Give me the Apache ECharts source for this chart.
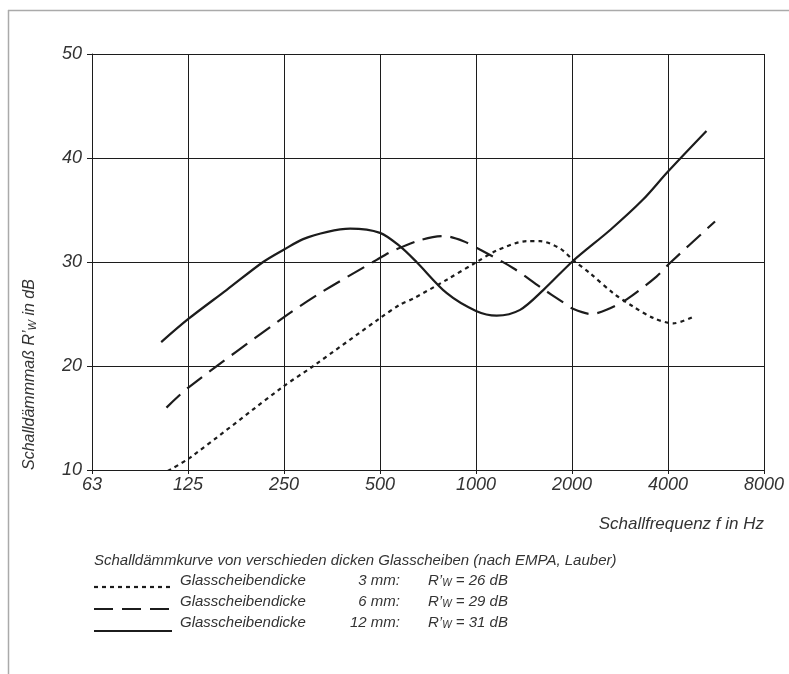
<!DOCTYPE html>
<html>
<head>
<meta charset="utf-8">
<script src="https://cdn.jsdelivr.net/npm/echarts@6/dist/echarts.min.js"></script>
<style>
  html, body { margin: 0; padding: 0; background: #fff; }
  #chart { width: 789px; height: 674px; }
</style>
</head>
<body>
<div id="chart"></div>
<script>
// octave band tick labels on the x axis (63 Hz ... 8000 Hz)
var freqLabels = ['63', '125', '250', '500', '1000', '2000', '4000', '8000'];
var baseFreq = 62.5;

// 3 mm glass (dotted)
var freq3mm = [108, 127, 248, 309, 500, 578, 637, 810, 1005, 1161, 1444, 1588, 1834, 2014, 2282, 2695, 3117, 3605, 4155, 4857];
var db3mm   = [9.9, 11.2, 18.0, 20.0, 24.6, 25.9, 26.5, 28.3, 30.0, 31.1, 32.0, 32.0, 31.3, 30.2, 28.9, 27.0, 25.7, 24.6, 24.1, 24.8];

// 6 mm glass (dashed)
var freq6mm = [107, 125, 250, 332, 488, 543, 668, 790, 914, 1028, 1310, 1588, 1879, 2014, 2297, 2567, 2969, 3681, 4056, 5617];
var db6mm   = [16.0, 17.9, 24.7, 27.2, 30.2, 31.0, 32.1, 32.5, 32.0, 31.2, 29.4, 27.6, 26.1, 25.5, 25.0, 25.4, 26.4, 28.6, 29.9, 33.9];

// 12 mm glass (solid)
var freq12mm = [103, 125, 165, 215, 250, 287, 342, 403, 500, 578, 651, 810, 1000, 1161, 1375, 1625, 2014, 2640, 3340, 4000, 5280];
var db12mm   = [22.3, 24.5, 27.3, 30.0, 31.2, 32.2, 32.9, 33.2, 32.8, 31.5, 30.0, 27.0, 25.3, 24.85, 25.4, 27.3, 30.1, 33.1, 36.0, 38.7, 42.6];

var FONT = '"Liberation Sans", Arial, sans-serif';
var INK = '#1c1c1c';

function toPoints(freqs, dbs) {
  return freqs.map(function (f, i) {
    return [Math.log2(f / baseFreq), dbs[i]];
  });
}

var chart = echarts.init(document.getElementById('chart'));

var option = {
  backgroundColor: '#fff',
  animation: false,
  grid: { left: 92, right: 25, top: 54, bottom: 204 },
  xAxis: {
    type: 'value',
    min: 0,
    max: 7,
    interval: 1,
    axisLine: { show: true, lineStyle: { color: INK, width: 1 } },
    axisTick: { show: true, length: 4, lineStyle: { color: INK } },
    axisLabel: {
      margin: 6,
      fontFamily: FONT,
      fontStyle: 'italic',
      fontSize: 18,
      color: '#333',
      formatter: function (v) { return freqLabels[Math.round(v)]; }
    },
    splitLine: { show: true, lineStyle: { color: INK, width: 1 } }
  },
  yAxis: {
    type: 'value',
    min: 10,
    max: 50,
    interval: 10,
    axisLine: { show: true, lineStyle: { color: INK, width: 1 } },
    axisTick: { show: true, length: 5, lineStyle: { color: INK } },
    axisLabel: {
      margin: 10,
      fontFamily: FONT,
      fontStyle: 'italic',
      fontSize: 18,
      color: '#333'
    },
    splitLine: { show: true, lineStyle: { color: INK, width: 1 } }
  },
  series: [
    {
      name: '3 mm',
      type: 'line',
      data: toPoints(freq3mm, db3mm),
      smooth: 0.3,
      showSymbol: false,
      lineStyle: { color: INK, width: 2.2, type: [4, 4] }
    },
    {
      name: '6 mm',
      type: 'line',
      data: toPoints(freq6mm, db6mm),
      smooth: 0.3,
      showSymbol: false,
      lineStyle: { color: INK, width: 2.2, type: [19, 9] }
    },
    {
      name: '12 mm',
      type: 'line',
      data: toPoints(freq12mm, db12mm),
      smooth: 0.3,
      showSymbol: false,
      lineStyle: { color: INK, width: 2.2 }
    }
  ],
  graphic: [
    // page frame (top and left)
    { type: 'line', shape: { x1: 8, y1: 10.5, x2: 789, y2: 10.5 }, style: { stroke: '#aaa', lineWidth: 1.5 } },
    { type: 'line', shape: { x1: 8.5, y1: 10, x2: 8.5, y2: 674 }, style: { stroke: '#aaa', lineWidth: 1.5 } },
    // y axis title
    {
      type: 'text', x: 30, y: 470, rotation: Math.PI / 2,
      style: {
        text: 'Schalldämmmaß R’{sub|W} in dB',
        font: 'italic 16px ' + FONT,
        fill: '#333',
        align: 'left',
        verticalAlign: 'middle',
        rich: { sub: { fontSize: 11, fontStyle: 'italic', fontFamily: FONT, fill: '#333', verticalAlign: 'bottom', lineHeight: 14 } }
      }
    },
    // x axis title
    {
      type: 'text', x: 764, y: 524,
      style: { text: 'Schallfrequenz f in Hz', font: 'italic 17px ' + FONT, fill: '#333', align: 'right', verticalAlign: 'middle' }
    },
    // legend block
    {
      type: 'text', x: 94, y: 561,
      style: { text: 'Schalldämmkurve von verschieden dicken Glasscheiben (nach EMPA, Lauber)', font: 'italic 15px ' + FONT, fill: '#333', verticalAlign: 'middle' }
    },
    { type: 'line', shape: { x1: 94, y1: 587, x2: 172, y2: 587 }, style: { stroke: INK, lineWidth: 2.2, lineDash: [4, 4] } },
    { type: 'line', shape: { x1: 94, y1: 609, x2: 172, y2: 609 }, style: { stroke: INK, lineWidth: 2.2, lineDash: [19, 9] } },
    { type: 'line', shape: { x1: 94, y1: 631, x2: 172, y2: 631 }, style: { stroke: INK, lineWidth: 2.2 } },
    { type: 'text', x: 180, y: 581, style: { text: 'Glasscheibendicke', font: 'italic 15px ' + FONT, fill: '#333', verticalAlign: 'middle' } },
    { type: 'text', x: 180, y: 602, style: { text: 'Glasscheibendicke', font: 'italic 15px ' + FONT, fill: '#333', verticalAlign: 'middle' } },
    { type: 'text', x: 180, y: 623, style: { text: 'Glasscheibendicke', font: 'italic 15px ' + FONT, fill: '#333', verticalAlign: 'middle' } },
    { type: 'text', x: 400, y: 581, style: { text: '3 mm:', font: 'italic 15px ' + FONT, fill: '#333', align: 'right', verticalAlign: 'middle' } },
    { type: 'text', x: 400, y: 602, style: { text: '6 mm:', font: 'italic 15px ' + FONT, fill: '#333', align: 'right', verticalAlign: 'middle' } },
    { type: 'text', x: 400, y: 623, style: { text: '12 mm:', font: 'italic 15px ' + FONT, fill: '#333', align: 'right', verticalAlign: 'middle' } },
    {
      type: 'text', x: 428, y: 581,
      style: { text: 'R’{sub|W} = 26 dB', font: 'italic 15px ' + FONT, fill: '#333', verticalAlign: 'middle',
        rich: { sub: { fontSize: 10, fontStyle: 'italic', fontFamily: FONT, fill: '#333', verticalAlign: 'bottom', lineHeight: 12 } } }
    },
    {
      type: 'text', x: 428, y: 602,
      style: { text: 'R’{sub|W} = 29 dB', font: 'italic 15px ' + FONT, fill: '#333', verticalAlign: 'middle',
        rich: { sub: { fontSize: 10, fontStyle: 'italic', fontFamily: FONT, fill: '#333', verticalAlign: 'bottom', lineHeight: 12 } } }
    },
    {
      type: 'text', x: 428, y: 623,
      style: { text: 'R’{sub|W} = 31 dB', font: 'italic 15px ' + FONT, fill: '#333', verticalAlign: 'middle',
        rich: { sub: { fontSize: 10, fontStyle: 'italic', fontFamily: FONT, fill: '#333', verticalAlign: 'bottom', lineHeight: 12 } } }
    }
  ]
};

chart.setOption(option);
</script>
</body>
</html>
